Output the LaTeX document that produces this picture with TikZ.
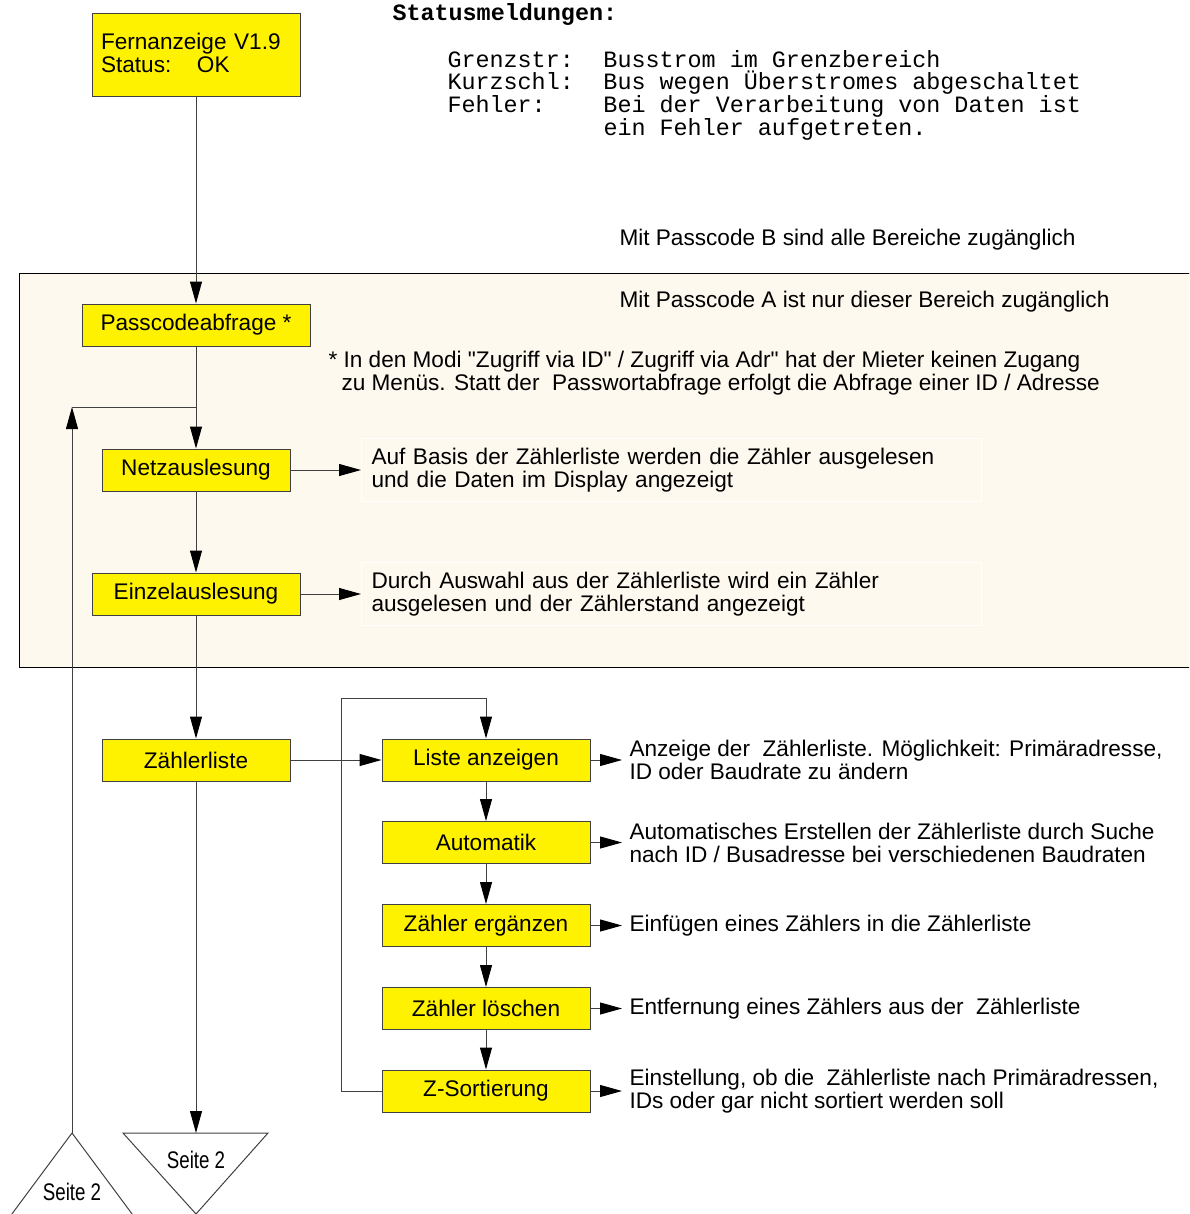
\documentclass[tikz,border=0pt]{standalone}
\usepackage{fontspec}
\setmainfont{Liberation Sans}
\setmonofont{Liberation Mono}
\newfontfamily\schmal[FakeStretch=0.78]{Liberation Sans}
\usepackage{tikz}
\usetikzlibrary{arrows.meta}
\definecolor{bereich}{HTML}{FEF9EE}
\definecolor{linie}{HTML}{404040}
\tikzset{
  kasten/.style={draw=linie, fill=yellow, minimum height=21pt, inner sep=0pt},
  pfeil/.style={-{Triangle[length=11pt,width=6pt,black]}},
  beschr/.style={anchor=west, align=left, inner xsep=3.5pt},
  infobox/.style={anchor=west, draw=white, text width=300pt, inner xsep=5pt, minimum height=31.5pt},
  mono/.style={font=\ttfamily\fontsize{11.7}{11.35}\selectfont, inner sep=0pt}
}

\begin{document}
\begin{tikzpicture}[x=0.5pt,y=-0.5pt,line width=0.5pt,draw=linie,font=\fontsize{11.3}{11.5}\selectfont]
    \useasboundingbox (0,0) rectangle (1189,1214);
    \clip (0,0) rectangle (1189,1214);
    \filldraw [fill=bereich, draw=black] (19,273) rectangle (1200,667);

    \node [mono, anchor=west, font=\ttfamily\bfseries\fontsize{11.7}{11.35}\selectfont] (statustitel) at (392,15) {Statusmeldungen:};
    \node [mono, anchor=west, align=left] (statusliste) at (447,95) {\makebox[78pt][l]{Grenzstr:}Busstrom im Grenzbereich\\
      \makebox[78pt][l]{Kurzschl:}Bus wegen Überstromes abgeschaltet\\
      \makebox[78pt][l]{Fehler:}Bei der Verarbeitung von Daten ist\\
      \makebox[78pt][l]{}ein Fehler aufgetreten.};
    \node [anchor=west, inner xsep=0pt] (passb) at (619,240) {Mit Passcode B sind alle Bereiche zugänglich};
    \node [anchor=west, inner xsep=0pt] (passa) at (619,302) {Mit Passcode A ist nur dieser Bereich zugänglich};
    \node [anchor=west, align=left, inner xsep=0pt] (hinweis) at (328,373) {* In den Modi \textquotedbl Zugriff via ID\textquotedbl{} / Zugriff via Adr\textquotedbl{} hat der Mieter keinen Zugang\\
      \hspace*{6.5pt}zu Menüs. Statt der~ Passwortabfrage erfolgt die Abfrage einer ID / Adresse};

    \node [kasten, minimum width=104pt, minimum height=41.5pt, text width=95pt, text depth=14.5pt, align=left, inner xsep=4.5pt] (fern) at (196,55.5) {Fernanzeige V1.9\\\makebox[48pt][l]{Status:}OK};
    \node [kasten, minimum width=114pt] (pass) at (196,325) {Passcodeabfrage *};
    \node [kasten, minimum width=94pt] (netz) at (196,470) {Netzauslesung};
    \node [kasten, minimum width=104pt] (einzel) at (196,594) {Einzelauslesung};
    \node [kasten, minimum width=94pt] (zliste) at (196,760) {Zählerliste};
    \node [kasten, minimum width=104pt] (liste) at (486,760) {Liste anzeigen};
    \node [kasten, minimum width=104pt] (auto) at (486,842.5) {Automatik};
    \node [kasten, minimum width=104pt] (ergaenzen) at (486,925.5) {Zähler ergänzen};
    \node [kasten, minimum width=104pt] (loeschen) at (486,1008.5) {Zähler löschen};
    \node [kasten, minimum width=104pt] (zsort) at (486,1091) {Z-Sortierung};

    \node [infobox] (netztext) at (361,470) {Auf Basis der Zählerliste werden die Zähler ausgelesen\\und die Daten im Display angezeigt};
    \node [infobox] (einzeltext) at (361,594) {Durch Auswahl aus der Zählerliste wird ein Zähler\\ausgelesen und der Zählerstand angezeigt};
    \node [beschr] (listetext) at (622,760) {Anzeige der~ Zählerliste. Möglichkeit: Primäradresse,\\ID oder Baudrate zu ändern};
    \node [beschr] (autotext) at (622,842.5) {Automatisches Erstellen der Zählerliste durch Suche\\nach ID / Busadresse bei verschiedenen Baudraten};
    \node [beschr] (ergaenzentext) at (622,925.5) {Einfügen eines Zählers in die Zählerliste};
    \node [beschr] (loeschentext) at (622,1008.5) {Entfernung eines Zählers aus der~ Zählerliste};
    \node [beschr] (zsorttext) at (622,1091) {Einstellung, ob die~ Zählerliste nach Primäradressen,\\IDs oder gar nicht sortiert werden soll};

    \draw (123,1133) -- (268,1133) -- (196,1214) -- cycle;
    \draw (72,1133) -- (0,1230) (72,1133) -- (144,1230);
    \node [font=\schmal\fontsize{12}{12}\selectfont] (seite2a) at (196,1160) {Seite 2};
    \node [font=\schmal\fontsize{12}{12}\selectfont] (seite2b) at (72,1192) {Seite 2};
    \coordinate (seiteA) at (196,1133);
    \coordinate (seiteB) at (72,1133);
    \coordinate (rueck) at (72,407);
    \coordinate (schleife) at (341,698);

    \draw [pfeil] (fern) -- (pass);
    \draw [pfeil] (pass) -- (netz);
    \draw [pfeil] (netz) -- (einzel);
    \draw [pfeil] (einzel) -- (zliste);
    \draw [pfeil] (zliste) -- (seiteA);
    \draw [pfeil] (seiteB) -- (rueck);
    \draw (rueck) -- (rueck -| pass);
    \draw [pfeil] (netz) -- (netztext);
    \draw [pfeil] (einzel) -- (einzeltext);
    \draw [pfeil] (zliste) -- (liste);
    \draw [pfeil] (liste) -- (auto);
    \draw [pfeil] (auto) -- (ergaenzen);
    \draw [pfeil] (ergaenzen) -- (loeschen);
    \draw [pfeil] (loeschen) -- (zsort);
    \draw [pfeil] (zsort.west) -| (schleife) -| (liste.north);
    \draw [pfeil] (liste) -- (listetext);
    \draw [pfeil] (auto) -- (autotext);
    \draw [pfeil] (ergaenzen) -- (ergaenzentext);
    \draw [pfeil] (loeschen) -- (loeschentext);
    \draw [pfeil] (zsort) -- (zsorttext);
\end{tikzpicture}
\end{document}
